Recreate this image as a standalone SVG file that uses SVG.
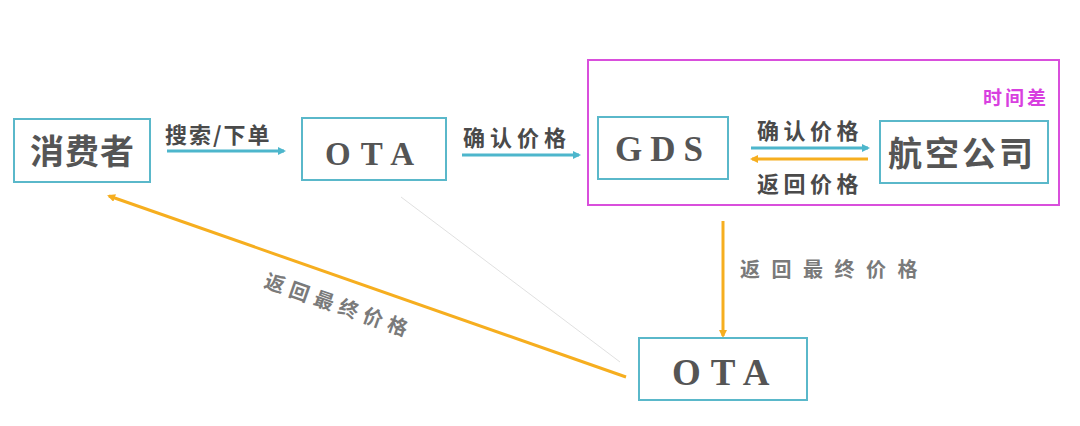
<svg xmlns="http://www.w3.org/2000/svg" width="1080" height="426" viewBox="0 0 1080 426">
<style>
.box{fill:#fff;stroke:#5ab8ca;stroke-width:2}
.cjk{font-family:"Noto Sans CJK SC",sans-serif;font-weight:bold;fill:#555}
.lat{font-family:"Liberation Serif",serif;font-weight:bold;fill:#555}
.lbl{font-family:"Noto Sans CJK SC",sans-serif;font-weight:bold;fill:#4a4a4a;font-size:22px}
.gl{font-family:"Noto Sans CJK SC",sans-serif;font-weight:bold;fill:#7a7a7a;font-size:20px}
.blue{stroke:#4db6cc;stroke-width:3;fill:none}
.orange{stroke:#f6ae1f;stroke-width:3;fill:none}
</style>
<defs>
<marker id="ab" markerWidth="8" markerHeight="8" refX="6" refY="4" orient="auto" markerUnits="userSpaceOnUse" viewBox="0 0 8 8"><path d="M0,0 L8,4 L0,8 Z" fill="#4db6cc"/></marker>
<marker id="ao" markerWidth="8" markerHeight="8" refX="6" refY="4" orient="auto" markerUnits="userSpaceOnUse" viewBox="0 0 8 8"><path d="M0,0 L8,4 L0,8 Z" fill="#f6ae1f"/></marker>
</defs>
<rect width="1080" height="426" fill="#fff"/>
<g id="group-timegap">
<rect x="588" y="60" width="471" height="145" fill="none" stroke="#d94fdc" stroke-width="2"/>
<text x="983" y="105" font-family="Noto Sans CJK SC,sans-serif" font-weight="bold" font-size="19" letter-spacing="3" fill="#d83fe0">时间差</text>
</g>
<g id="connectors">
<line x1="401" y1="197" x2="620" y2="362" stroke="#d8d8d8" stroke-width="0.8"/>
<line class="blue" x1="167" y1="151" x2="284" y2="151" marker-end="url(#ab)"/>
<line class="blue" x1="462" y1="155" x2="579" y2="155" marker-end="url(#ab)"/>
<line class="blue" x1="751" y1="148" x2="868" y2="148" marker-end="url(#ab)"/>
<line class="orange" x1="868" y1="159" x2="752" y2="159" marker-end="url(#ao)"/>
<line class="orange" x1="723" y1="221" x2="723" y2="336" marker-end="url(#ao)"/>
<line class="orange" x1="626" y1="377" x2="109" y2="196" marker-end="url(#ao)"/>
<text class="lbl" x="165" y="143" letter-spacing="2">搜索/下单</text>
<text class="lbl" x="463" y="146" letter-spacing="5">确认价格</text>
<text class="lbl" x="757" y="139" letter-spacing="4.5">确认价格</text>
<text class="lbl" x="757" y="192" letter-spacing="4.5">返回价格</text>
<text class="gl" x="740" y="277" letter-spacing="11.5">返回最终价格</text>
<text class="gl" x="0" y="7" text-anchor="middle" letter-spacing="6" transform="translate(339,306) rotate(19.3)">返回最终价格</text>
</g>
<g id="node-consumer">
<rect class="box" x="14" y="119" width="136" height="63"/>
<text class="cjk" x="30" y="164" font-size="34" letter-spacing="1">消费者</text>
</g>
<g id="node-ota1">
<rect class="box" x="302" y="118" width="144" height="62"/>
<text class="lat" x="325" y="165" font-size="33" letter-spacing="10">OTA</text>
</g>
<g id="node-gds">
<rect class="box" x="598" y="117" width="130" height="62"/>
<text class="lat" x="615" y="161" font-size="35" letter-spacing="8">GDS</text>
</g>
<g id="node-airline">
<rect class="box" x="880" y="121" width="168" height="62"/>
<text class="cjk" x="888" y="166" font-size="34" letter-spacing="3">航空公司</text>
</g>
<g id="node-ota2">
<rect class="box" x="639" y="338" width="168" height="62"/>
<text class="lat" x="672" y="385" font-size="37" letter-spacing="10">OTA</text>
</g>
</svg>
